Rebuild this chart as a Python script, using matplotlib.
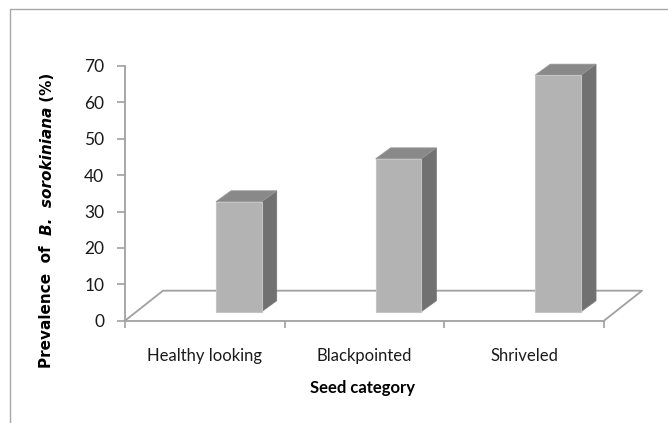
import matplotlib.pyplot as plt
from matplotlib.patches import Polygon
from matplotlib.lines import Line2D
import numpy as np

# data
categories = ["Healthy looking", "Blackpointed", "Shriveled"]
prevalence = [30.2, 42.0, 65.0]
y_ticks = [0, 10, 20, 30, 40, 50, 60, 70]

W, H = 668, 423
fig = plt.figure(figsize=(W / 100, H / 100), dpi=100)
fig.patch.set_facecolor("white")

# axes placed in pixel terms of the reference
left, right, top, bottom = 125, 604, 66, 320.7
ax = fig.add_axes([left / W, (H - bottom) / H, (right - left) / W, (bottom - top) / H])
ax.set_xlim(0, len(categories))
ax.set_ylim(0, 70)

axis_col = "#a0a0a0"
front_col = "#b3b3b3"
side_col = "#717171"
top_col = "#898989"

# floor depth (3D look)
floor_dx, floor_dy = 0.238, 8.25
n = len(categories)
floor = [(0, 0), (floor_dx, floor_dy), (n + floor_dx, floor_dy), (n, 0)]
ax.add_line(Line2D([p[0] for p in floor], [p[1] for p in floor], color=axis_col,
                   lw=1.3, clip_on=False, zorder=1))

# bars: front face through ax.bar, side/top faces derived from the same values
x = np.arange(n) + 0.5
shift, base, width = 0.213, 2.5, 0.286
depth_dx, depth_dy = 0.094, 3.0
bars = ax.bar(x + shift, prevalence, width=width, bottom=base, color=front_col,
              edgecolor="#c4c4c4", linewidth=0.8, zorder=3)
for b in bars:
    x0, x1 = b.get_x(), b.get_x() + b.get_width()
    y0, y1 = b.get_y(), b.get_y() + b.get_height()
    side = [(x1, y0), (x1 + depth_dx, y0 + depth_dy), (x1 + depth_dx, y1 + depth_dy), (x1, y1)]
    topf = [(x0, y1), (x0 + depth_dx, y1 + depth_dy), (x1 + depth_dx, y1 + depth_dy), (x1, y1)]
    ax.add_patch(Polygon(side, closed=True, facecolor=side_col, edgecolor="#7a7a7a",
                         lw=0.6, zorder=2, clip_on=False))
    ax.add_patch(Polygon(topf, closed=True, facecolor=top_col, edgecolor="#959595",
                         lw=0.6, zorder=2, clip_on=False))

# spines and ticks
for s in ["top", "right"]:
    ax.spines[s].set_visible(False)
for s in ["left", "bottom"]:
    ax.spines[s].set_color(axis_col)
    ax.spines[s].set_linewidth(1.3)
ax.set_yticks(y_ticks)
ax.set_xticks(np.arange(n + 1))
ax.set_xticklabels([])
ax.set_xticks(x, minor=True)
ax.set_xticklabels(categories, minor=True)
ax.tick_params(axis="y", direction="out", length=6, width=1.2, color=axis_col,
               pad=9, labelsize=12.5, labelcolor="#1a1a1a")
ax.tick_params(axis="x", which="major", direction="out", length=5, width=1.2, color=axis_col)
ax.tick_params(axis="x", which="minor", length=0, pad=20, labelsize=12, labelcolor="#1a1a1a")
for lab in ax.get_yticklabels() + ax.get_xticklabels(minor=True):
    lab.set_fontfamily("Lato")

fig.text(363 / W, (H - 388) / H, "Seed category", ha="center", va="center",
         fontsize=12, fontweight="bold", fontfamily="Lato")

# y label with italic species name, built from three pieces
lx = 47 / W
fs = 11
t1 = fig.text(lx, (H - 368) / H, "Prevalence  of  ", rotation=90, ha="center", va="bottom",
              fontsize=fs, fontweight="bold", fontfamily="DejaVu Sans")
t2 = ax.annotate("B.  sorokiniana", xy=(0.5, 1), xycoords=t1, rotation=90, ha="center",
                 va="bottom", fontsize=fs, fontweight="bold", fontstyle="italic",
                 fontfamily="DejaVu Sans", annotation_clip=False)
t3 = ax.annotate(" (%)", xy=(0.5, 1), xycoords=t2, rotation=90, ha="center",
                 va="bottom", fontsize=fs, fontweight="bold",
                 fontfamily="DejaVu Sans", annotation_clip=False)

# outer frame (top and left edges visible in the reference)
fig.add_artist(Line2D([10 / W, 10 / W, 1.0], [0.0, 1 - 9.5 / H, 1 - 9.5 / H],
                      transform=fig.transFigure, color="#a8a8a8", lw=1.0))

fig.savefig("out.png", dpi=100)
